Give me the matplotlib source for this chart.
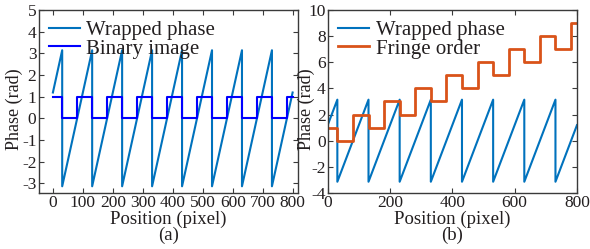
import matplotlib
matplotlib.use('Agg')
import matplotlib.pyplot as plt
import numpy as np

# wrapped phase: one sawtooth, drops from +pi to -pi at each jump
start_x, start_phase = 0, 1.19
jump_x = [31, 131, 231, 331, 431, 531, 631, 731]
end_x, end_phase = 800, 1.19
peak, trough = 3.14, -3.14

# step signals: value on each segment between edges
edges = [0, 31, 81, 131, 181, 231, 281, 331, 381, 431, 481, 531, 581, 631, 681, 731, 781, 800]
binary_vals = [1, 0, 1, 0, 1, 0, 1, 0, 1, 0, 1, 0, 1, 0, 1, 0, 1]
fringe_vals = [1, 0, 2, 1, 3, 2, 4, 3, 5, 4, 6, 5, 7, 6, 8, 7, 9]

c_wrap = '#0072BD'
c_bin = '#0000FF'
c_fringe = '#D95319'
txt = '#231f20'

plt.rcParams['font.family'] = ['Liberation Serif', 'DejaVu Serif']
plt.rcParams['axes.unicode_minus'] = False
plt.rcParams['xtick.direction'] = 'in'
plt.rcParams['ytick.direction'] = 'in'


def sawtooth_xy():
    xs, ys = [start_x], [start_phase]
    for jx in jump_x:
        xs += [jx, jx]
        ys += [peak, trough]
    xs.append(end_x)
    ys.append(end_phase)
    return xs, ys


def steps_xy(vals):
    xs, ys = [], []
    for i, v in enumerate(vals):
        xs += [edges[i], edges[i + 1]]
        ys += [v, v]
    return xs, ys


def style_axes(ax):
    for s in ax.spines.values():
        s.set_color('#3a3a3a')
        s.set_linewidth(1.0)
    ax.tick_params(top=True, right=True, length=3.5, width=0.8, color='#3a3a3a',
                   labelsize=12.5, labelcolor=txt, pad=1.5)


def add_legend(ax):
    ax.legend(loc='upper left', frameon=False, fontsize=15, handlelength=1.5,
              handletextpad=0.3, labelspacing=-0.05, borderaxespad=0.35,
              borderpad=0.15, labelcolor=txt)


fig = plt.figure(figsize=(5.9, 2.49), dpi=100)
ax1 = fig.add_axes([0.0653, 0.2249, 0.4398, 0.7351])
ax2 = fig.add_axes([0.5554, 0.2249, 0.4225, 0.7351])

wx, wy = sawtooth_xy()

# (a)
bx, by = steps_xy(binary_vals)
ax1.plot(wx, wy, color=c_wrap, lw=1.5, label='Wrapped phase')
ax1.plot(bx, by, color=c_bin, lw=1.5, label='Binary image')
ax1.set_xlim(-48, 818)
ax1.set_ylim(-3.45, 5)
ax1.set_xticks(np.arange(0, 801, 100))
ax1.set_yticks(np.arange(-3, 6, 1))
ax1.set_xlabel('Position (pixel)\n(a)', fontsize=13.5, color=txt, labelpad=0, linespacing=0.9)
ax1.set_ylabel('Phase (rad)', fontsize=13, color=txt)
ax1.yaxis.set_label_coords(-0.06, 0.46)
style_axes(ax1)
add_legend(ax1)

# (b)
fx, fy = steps_xy(fringe_vals)
ax2.plot(wx, wy, color=c_wrap, lw=1.5, label='Wrapped phase')
ax2.plot(fx, fy, color=c_fringe, lw=2.0, label='Fringe order')
ax2.set_xlim(0, 800)
ax2.set_ylim(-4, 10)
ax2.set_xticks(np.arange(0, 801, 200))
ax2.set_yticks(np.arange(-4, 11, 2))
ax2.set_xlabel('Position (pixel)\n(b)', fontsize=13.5, color=txt, labelpad=0, linespacing=0.9)
ax2.set_ylabel('Phase (rad)', fontsize=13, color=txt)
ax2.yaxis.set_label_coords(-0.05, 0.46)
style_axes(ax2)
add_legend(ax2)

fig.savefig('out.png', dpi=100)
